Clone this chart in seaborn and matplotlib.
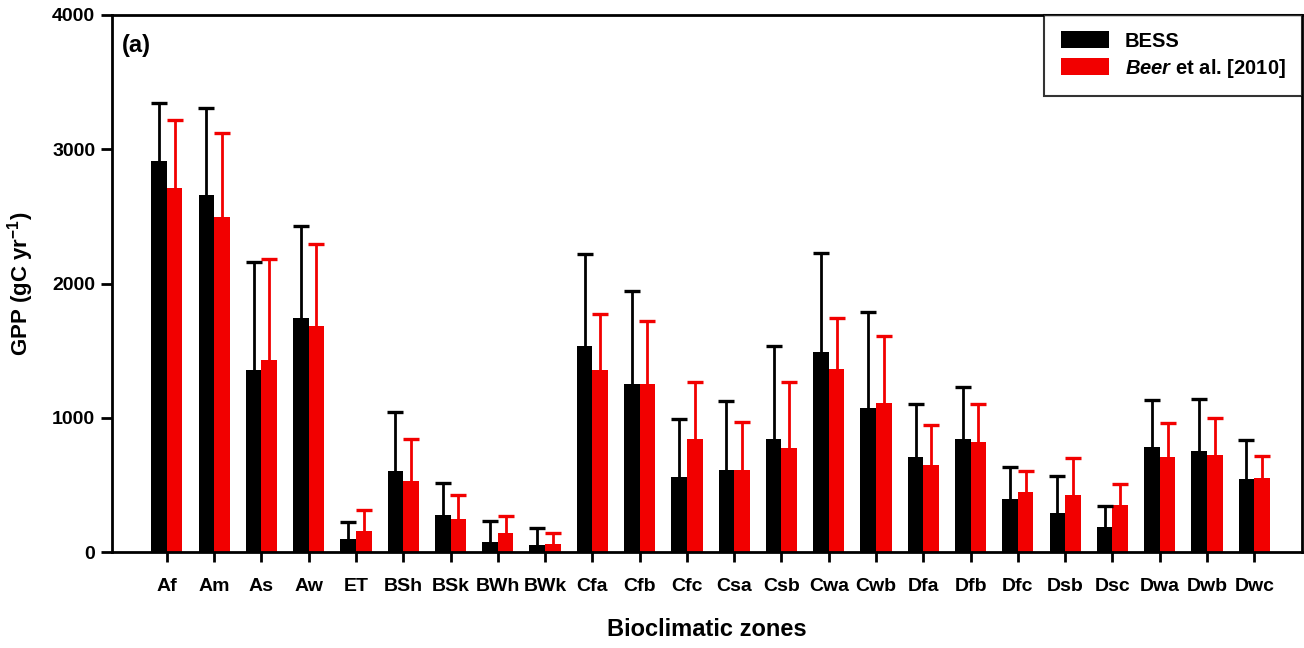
import pandas as pd
import seaborn as sns
import matplotlib.pyplot as plt

# 气候带与两套GPP数据（均值与标准差）
zones = ['Af', 'Am', 'As', 'Aw', 'ET', 'BSh', 'BSk', 'BWh', 'BWk', 'Cfa', 'Cfb', 'Cfc',
         'Csa', 'Csb', 'Cwa', 'Cwb', 'Dfa', 'Dfb', 'Dfc', 'Dsb', 'Dsc', 'Dwa', 'Dwb', 'Dwc']
bess_mean = [2914, 2660, 1357, 1740, 94, 603, 278, 75, 55, 1533, 1249, 556,
             611, 840, 1493, 1071, 711, 840, 394, 289, 186, 780, 754, 543]
bess_sd = [429, 649, 806, 686, 129, 440, 234, 157, 127, 688, 695, 433,
           515, 695, 735, 718, 389, 389, 237, 277, 157, 349, 389, 291]
beer_mean = [2714, 2497, 1434, 1683, 157, 531, 247, 140, 62, 1353, 1249, 840,
             611, 773, 1363, 1110, 649, 817, 449, 423, 354, 711, 726, 549]
beer_sd = [500, 626, 746, 614, 157, 312, 179, 127, 80, 419, 471, 424,
           356, 491, 379, 502, 294, 289, 157, 277, 152, 252, 271, 165]

labels = ['BESS', r'$\it{Beer}$ et al. [2010]']
colors = ['black', '#f20000']

sns.set_style('ticks')
plt.rcParams['font.family'] = ['Liberation Sans', 'DejaVu Sans']
plt.rcParams['font.weight'] = 'bold'
plt.rcParams['mathtext.fontset'] = 'custom'
plt.rcParams['mathtext.rm'] = 'Liberation Sans:bold'
plt.rcParams['mathtext.it'] = 'Liberation Sans:italic:bold'
plt.rcParams['mathtext.default'] = 'regular'
for k in ['text.color', 'axes.labelcolor', 'xtick.color', 'ytick.color', 'axes.edgecolor']:
    plt.rcParams[k] = 'black'

df = pd.DataFrame({
    'zone': zones * 2,
    'gpp': bess_mean + beer_mean,
    'sd': bess_sd + beer_sd,
    'source': [labels[0]] * len(zones) + [labels[1]] * len(zones),
})

fig = plt.figure(figsize=(13.04, 6.48), dpi=100)
ax = fig.add_axes([0.0859, 0.148, 0.9126, 0.829])

sns.barplot(data=df, x='zone', y='gpp', hue='source', palette=colors,
            width=0.66, gap=0, saturation=1, errorbar=None, linewidth=0, ax=ax)

# 误差线（只画上半部分）
for cont, col, sd in zip(ax.containers, colors, [bess_sd, beer_sd]):
    xs = [b.get_x() + b.get_width() / 2 for b in cont]
    hs = [b.get_height() for b in cont]
    eb = ax.errorbar(xs, hs, yerr=[[0] * len(sd), sd], fmt='none', ecolor=col,
                     elinewidth=2, capsize=6, capthick=2.4, zorder=1)
    eb[1][0].remove()  # 去掉下端的横线

ax.set_xlim(-1.16, 24.01)
ax.set_ylim(0, 4000)
ax.set_yticks([0, 1000, 2000, 3000, 4000])
ax.tick_params(axis='both', direction='out', width=2, labelsize=14)
ax.tick_params(axis='x', length=7, pad=12)
ax.tick_params(axis='y', length=8, pad=4)
for s in ax.spines.values():
    s.set_linewidth(2)

ax.set_xlabel('Bioclimatic zones', fontsize=17, fontweight='bold', labelpad=16)
ax.set_ylabel('GPP (gC yr$^{-1}$)', fontsize=16, fontweight='bold', labelpad=12)
ax.text(0.008, 0.965, '(a)', transform=ax.transAxes, fontsize=17,
        fontweight='bold', va='top', ha='left')

leg = ax.legend(loc='upper right', borderaxespad=0, fancybox=False,
                fontsize=14.5, handlelength=2.4, handleheight=0.95,
                borderpad=0.8, labelspacing=0.3, handletextpad=0.8, title=None)
leg.get_frame().set_edgecolor('black')
leg.get_frame().set_linewidth(1.5)
for t in leg.get_texts():
    t.set_fontweight('bold')

plt.savefig('out.png', dpi=100)
